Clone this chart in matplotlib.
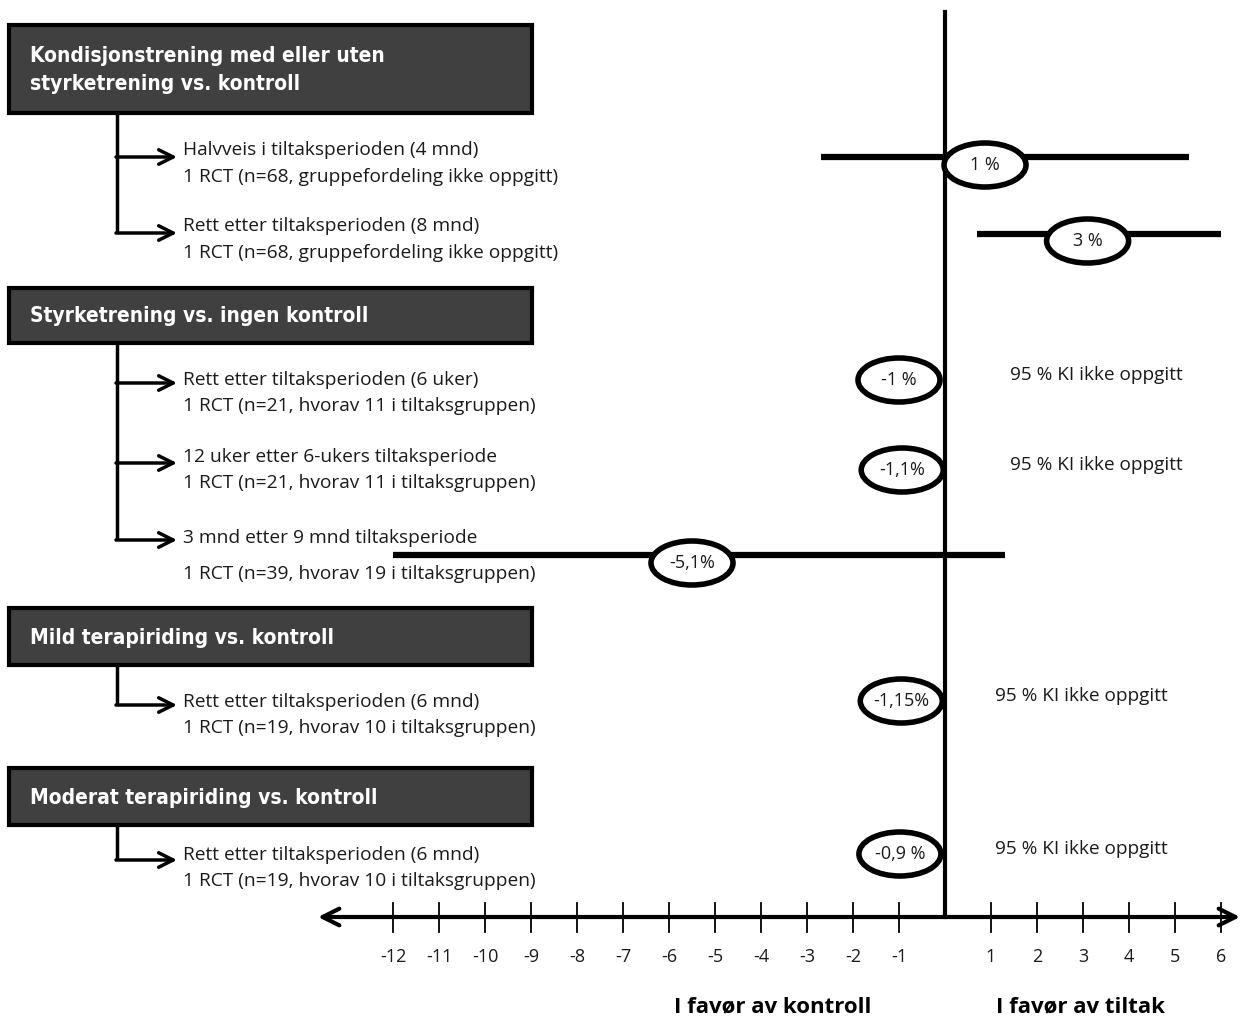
import matplotlib
matplotlib.use("Agg")
import matplotlib.pyplot as plt
from matplotlib.patches import Ellipse, Rectangle

# ---------------- data ----------------
group_titles = [
    "Kondisjonstrening med eller uten\nstyrketrening vs. kontroll",
    "Styrketrening vs. ingen kontroll",
    "Mild terapiriding vs. kontroll",
    "Moderat terapiriding vs. kontroll",
]
row_line1 = [
    "Halvveis i tiltaksperioden (4 mnd)",
    "Rett etter tiltaksperioden (8 mnd)",
    "Rett etter tiltaksperioden (6 uker)",
    "12 uker etter 6-ukers tiltaksperiode",
    "3 mnd etter 9 mnd tiltaksperiode",
    "Rett etter tiltaksperioden (6 mnd)",
    "Rett etter tiltaksperioden (6 mnd)",
]
row_line2 = [
    "1 RCT (n=68, gruppefordeling ikke oppgitt)",
    "1 RCT (n=68, gruppefordeling ikke oppgitt)",
    "1 RCT (n=21, hvorav 11 i tiltaksgruppen)",
    "1 RCT (n=21, hvorav 11 i tiltaksgruppen)",
    "1 RCT (n=39, hvorav 19 i tiltaksgruppen)",
    "1 RCT (n=19, hvorav 10 i tiltaksgruppen)",
    "1 RCT (n=19, hvorav 10 i tiltaksgruppen)",
]
row_group = [0, 0, 1, 1, 1, 2, 3]
est_labels = ["1 %", "3 %", "-1 %", "-1,1%", "-5,1%", "-1,15%", "-0,9 %"]
est_values = [0.87, 3.1, -1.0, -0.93, -5.5, -0.95, -0.98]   # ellipse centres as drawn
ci_low = [-2.7, 0.7, None, None, -12.0, None, None]
ci_high = [5.3, 6.0, None, None, 1.3, None, None]
ci_note = [None, None, "95 % KI ikke oppgitt", "95 % KI ikke oppgitt", None,
           "95 % KI ikke oppgitt", "95 % KI ikke oppgitt"]
tick_values = [-12, -11, -10, -9, -8, -7, -6, -5, -4, -3, -2, -1, 1, 2, 3, 4, 5, 6]
xlabel_left = "I favør av kontroll"
xlabel_right = "I favør av tiltak"

# ---------------- layout (pixel positions) ----------------
W, H = 1241, 1019
X0, SCALE = 945, 46.0
def px(x):
    return (x - X0) / SCALE

box_y = [(25, 113), (288, 343), (608, 665), (768, 825)]
row_line_y = [157, 234, 380, 470, 555, 701, 854]
row_ell_y = [165, 241, 380, 470, 563, 701, 854]
row_text_y = [(150, 177), (226, 253), (380, 406), (457, 483), (538, 574), (702, 728), (855, 881)]
arrow_y = [157, 233, 383, 463, 540, 705, 860]
note_x = [None, None, 1010, 1010, None, 995, 995]
axis_y = 917

head_font = "DejaVu Sans"
body_font = "Open Sans"
txt_col = "#1a1a1a"

fig = plt.figure(figsize=(W / 100, H / 100), dpi=100)
ax = fig.add_axes([0, 0, 1, 1])
ax.set_xlim(px(0), px(W))
ax.set_ylim(H, 0)
ax.axis("off")

# header boxes
for title, (y0, y1) in zip(group_titles, box_y):
    ax.add_patch(Rectangle((px(9), y0), px(532) - px(9), y1 - y0,
                           facecolor="#404040", edgecolor="black", lw=3, zorder=2))
    ax.text(px(30), (y0 + y1) / 2 + 1, title, color="white", fontsize=15,
            fontweight="bold", family=head_font, fontstretch="condensed",
            va="center", ha="left", linespacing=1.45, zorder=3)

# connectors
for g, (y0, y1) in enumerate(box_y):
    ys = [arrow_y[i] for i in range(len(row_group)) if row_group[i] == g]
    ax.plot([px(117), px(117)], [y1, max(ys)], color="black", lw=2.5,
            solid_capstyle="butt", zorder=1)
for y in arrow_y:
    ax.annotate("", xy=(px(177), y), xytext=(px(116), y),
                arrowprops=dict(arrowstyle="->", lw=2.5, color="black",
                                mutation_scale=26, shrinkA=0, shrinkB=0))

# row texts
for l1, l2, (y1, y2) in zip(row_line1, row_line2, row_text_y):
    ax.text(px(183), y1, l1, fontsize=13.8, family=body_font, color=txt_col,
            va="center", ha="left")
    ax.text(px(183), y2, l2, fontsize=13.8, family=body_font, color=txt_col,
            va="center", ha="left")

# vertical line of no effect
ax.plot([0, 0], [12, axis_y], color="black", lw=3, zorder=1)

# CI lines, estimates
for i in range(len(est_values)):
    if ci_low[i] is not None:
        ax.plot([ci_low[i], ci_high[i]], [row_line_y[i]] * 2, color="black",
                lw=4.5, solid_capstyle="butt", zorder=2)
    ax.add_patch(Ellipse((est_values[i], row_ell_y[i]), 82 / SCALE, 44,
                         facecolor="white", edgecolor="black", lw=4, zorder=4))
    ax.text(est_values[i], row_ell_y[i], est_labels[i], fontsize=13,
            family=body_font, color=txt_col, ha="center", va="center", zorder=5)
    if ci_note[i]:
        ax.text(px(note_x[i]), row_line_y[i] - 5, ci_note[i], fontsize=13.7,
                family=body_font, color=txt_col, ha="left", va="center")

# bottom axis
ax.annotate("", xy=(px(318), axis_y), xytext=(px(1240), axis_y),
            arrowprops=dict(arrowstyle="<->", lw=3, color="black",
                            mutation_scale=30, shrinkA=0, shrinkB=0))
for t in tick_values:
    ax.plot([t, t], [903, 932], color="black", lw=1.3)
    ax.text(t, 957, str(t), fontsize=13, family=body_font, color=txt_col,
            ha="center", va="center")

ax.text(px(773), 1012, xlabel_left, fontsize=16, fontweight="bold",
        family=body_font, ha="center", va="baseline")
ax.text(px(1080), 1012, xlabel_right, fontsize=16, fontweight="bold",
        family=body_font, ha="center", va="baseline")

fig.savefig("out.png", dpi=100)
